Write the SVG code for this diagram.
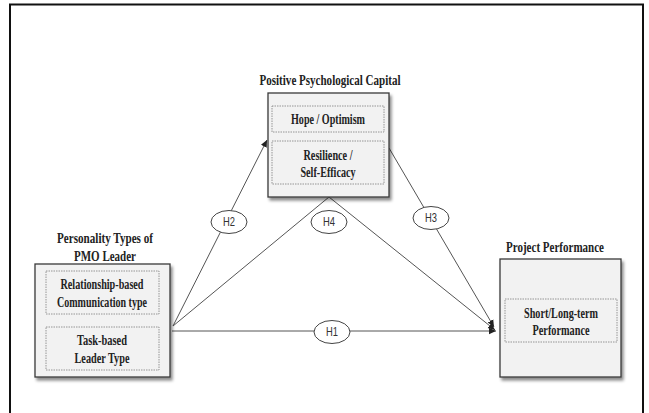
<svg xmlns="http://www.w3.org/2000/svg" width="649" height="413" viewBox="0 0 649 413">
<defs>
<filter id="sh" x="-10%" y="-10%" width="130%" height="130%">
<feDropShadow dx="2" dy="3" stdDeviation="1.5" flood-color="#000" flood-opacity="0.45"/>
</filter>
<marker id="ah" markerWidth="8" markerHeight="8" refX="7" refY="4" orient="auto" markerUnits="userSpaceOnUse">
<path d="M0,0.8 L7,4 L0,7.2 Z" fill="#222"/>
</marker>
<style>
.box{fill:#f2f2f2;stroke:#3a3a3a;stroke-width:1.3}
.inner{fill:#f2f2f2;stroke:#8a8a8a;stroke-width:0.9;stroke-dasharray:1.5 1}
.t{font-family:"Liberation Serif","Times New Roman",serif;font-weight:bold;font-size:15px;fill:#222;text-anchor:middle}
.h{font-family:"Liberation Sans",Arial,sans-serif;font-size:12px;fill:#333;text-anchor:middle}
.ell{fill:#fff;stroke:#444;stroke-width:1}
.ln{fill:none;stroke:#555;stroke-width:1}
</style>
</defs>
<rect x="0" y="0" width="649" height="413" fill="#fff"/>
<rect x="10" y="4.5" width="633" height="420" fill="none" stroke="#111" stroke-width="2"/>

<g id="connectors">
<line class="ln" x1="172" y1="331" x2="496" y2="331" marker-end="url(#ah)"/>
<line class="ln" x1="173" y1="326" x2="267" y2="140" marker-end="url(#ah)"/>
<polyline class="ln" points="173,326 329,197 495,330" marker-end="url(#ah)"/>
<line class="ln" x1="389" y1="148" x2="494" y2="327" marker-end="url(#ah)"/>
</g>

<g id="psycap">
<text class="t" x="330" y="85" textLength="141" lengthAdjust="spacingAndGlyphs">Positive Psychological Capital</text>
<rect class="box" x="268" y="93" width="121" height="104" filter="url(#sh)"/>
<g id="hope">
<rect class="inner" x="272" y="106" width="112" height="26"/>
<text class="t" x="328" y="124" textLength="74" lengthAdjust="spacingAndGlyphs">Hope / Optimism</text>
</g>
<g id="resilience">
<rect class="inner" x="272" y="141" width="112" height="43"/>
<text class="t" x="328" y="160" textLength="49" lengthAdjust="spacingAndGlyphs">Resilience /</text>
<text class="t" x="328" y="177" textLength="55" lengthAdjust="spacingAndGlyphs">Self-Efficacy</text>
</g>
</g>

<g id="personality">
<text class="t" x="105" y="243" textLength="96" lengthAdjust="spacingAndGlyphs">Personality Types of</text>
<text class="t" x="105" y="261" textLength="62" lengthAdjust="spacingAndGlyphs">PMO Leader</text>
<rect class="box" x="35" y="264" width="135" height="113" filter="url(#sh)"/>
<g id="relationship">
<rect class="inner" x="46" y="271" width="113" height="43"/>
<text class="t" x="102" y="289" textLength="83" lengthAdjust="spacingAndGlyphs">Relationship-based</text>
<text class="t" x="102" y="307" textLength="90" lengthAdjust="spacingAndGlyphs">Communication type</text>
</g>
<g id="task">
<rect class="inner" x="46" y="327" width="113" height="43"/>
<text class="t" x="102" y="345" textLength="50" lengthAdjust="spacingAndGlyphs">Task-based</text>
<text class="t" x="102" y="363" textLength="55" lengthAdjust="spacingAndGlyphs">Leader Type</text>
</g>
</g>

<g id="performance">
<text class="t" x="555" y="252" textLength="98" lengthAdjust="spacingAndGlyphs">Project Performance</text>
<rect class="box" x="500" y="259" width="121" height="118" filter="url(#sh)"/>
<g id="shortlong">
<rect class="inner" x="505" y="299" width="112" height="43"/>
<text class="t" x="561" y="318" textLength="74" lengthAdjust="spacingAndGlyphs">Short/Long-term</text>
<text class="t" x="561" y="335" textLength="57" lengthAdjust="spacingAndGlyphs">Performance</text>
</g>
</g>

<g id="h1"><ellipse class="ell" cx="332" cy="332" rx="18" ry="11.5"/><text class="h" x="332" y="336" textLength="12" lengthAdjust="spacingAndGlyphs">H1</text></g>
<g id="h2"><ellipse class="ell" cx="229" cy="222" rx="18" ry="11.5"/><text class="h" x="229" y="226" textLength="12" lengthAdjust="spacingAndGlyphs">H2</text></g>
<g id="h3"><ellipse class="ell" cx="431" cy="218" rx="18" ry="11.5"/><text class="h" x="431" y="222" textLength="12" lengthAdjust="spacingAndGlyphs">H3</text></g>
<g id="h4"><ellipse class="ell" cx="329" cy="222" rx="18" ry="11.5"/><text class="h" x="329" y="226" textLength="12" lengthAdjust="spacingAndGlyphs">H4</text></g>
</svg>
